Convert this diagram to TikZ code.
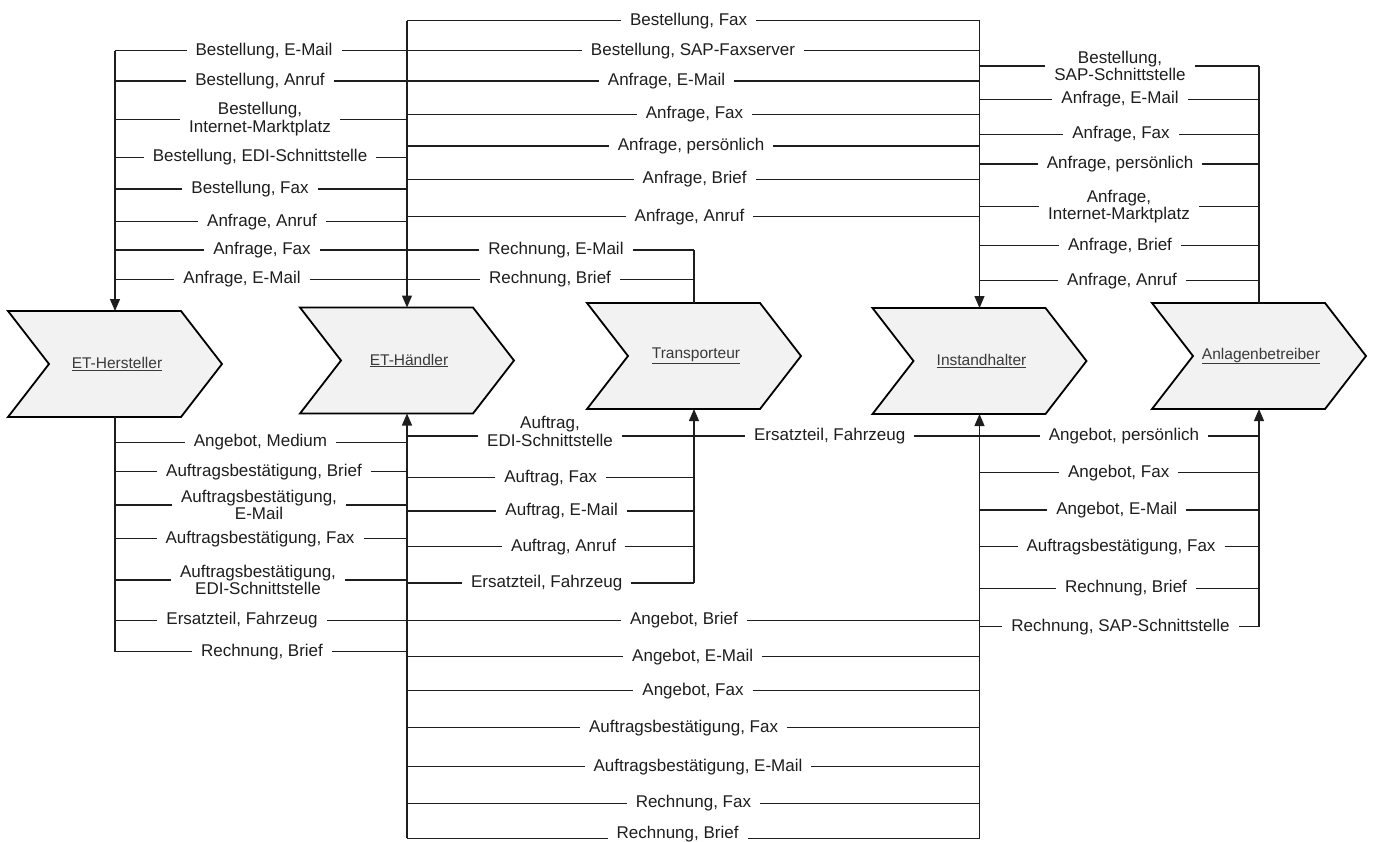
\documentclass[tikz,border=0pt]{standalone}
\usepackage{fontspec}
\setmainfont{Liberation Sans}
\usetikzlibrary{arrows.meta,backgrounds}
\definecolor{chevfill}{HTML}{F2F2F2}
\definecolor{ink}{HTML}{1E1E1E}
\definecolor{chevink}{HTML}{3A3A3A}
\tikzset{
  conn/.style={draw=ink, line width=1.2pt},
  arr/.style={conn, -{Triangle[width=10pt,length=12pt]}},
  lbl/.style={fill=white, text=ink, font=\fontsize{17}{19.5}\selectfont, inner xsep=9pt, inner ysep=1pt, text height=12.5pt, text depth=3.6pt},
  lbltwo/.style={fill=white, text=ink, font=\fontsize{17}{19.5}\selectfont, inner xsep=9pt, inner ysep=0pt, align=center},
  chevbox/.style={minimum width=214pt, minimum height=106pt, inner sep=0pt, outer sep=0pt},
  chevstyle/.style={draw=black, fill=chevfill, line width=1.8pt, line join=miter},
  chevtext/.style={text=chevink, font=\fontsize{15.5}{18}\selectfont, inner sep=0pt}
}
\newcommand\chev[4]{%
  \node[chevbox] (#1) at (#2,#3) {};
  \begin{scope}[on background layer]
  \draw[chevstyle] (#1.north west) -- ([xshift=-41pt]#1.north east) -- (#1.east) -- ([xshift=-41pt]#1.south east) -- (#1.south west) -- ([xshift=41pt]#1.west) -- cycle;
  \end{scope}
  \node[chevtext] (#1t) at ([xshift=2pt]#1.center) {\underline{#4}};
}
\newcommand\flow[6]{%
  \draw[conn] (#2 |- 0,#4) -- (#3 |- 0,#4);
  \node[lbl] (#1) at (#5,#4) {#6};
}
\newcommand\flowtwo[6]{%
  \draw[conn] (#2 |- 0,#4) -- (#3 |- 0,#4);
  \node[lbltwo] (#1) at (#5,#4) {#6};
}
\begin{document}
\begin{tikzpicture}[x=1pt,y=-1pt]
\useasboundingbox (0,0) rectangle (1375,841);

% chevrons
\chev{H}{115}{364}{ET-Hersteller}
\chev{D}{407}{360.5}{ET-Händler}
\chev{T}{694}{356}{Transporteur}
\chev{I}{979.5}{361}{Instandhalter}
\chev{A}{1259}{356}{Anlagenbetreiber}

% ---------- top: Händler -> Hersteller
\flow{a1}{H.north}{D.north}{50.7}{264}{Bestellung, E-Mail}
\flow{a2}{H.north}{D.north}{81}{260}{Bestellung, Anruf}
\flowtwo{a3}{H.north}{D.north}{119.3}{260}{Bestellung,\\[-2pt]Internet-Marktplatz}
\flow{a4}{H.north}{D.north}{157.3}{260}{Bestellung, EDI-Schnittstelle}
\flow{a5}{H.north}{D.north}{189}{250}{Bestellung, Fax}
\flow{a6}{H.north}{D.north}{221.7}{262}{Anfrage, Anruf}
\flow{a7}{H.north}{D.north}{250}{262}{Anfrage, Fax}
\flow{a8}{H.north}{D.north}{279.3}{242}{Anfrage, E-Mail}

% ---------- top: Instandhalter -> Händler
\flow{b1}{D.north}{I.north}{20.7}{688.6}{Bestellung, Fax}
\flow{b2}{D.north}{I.north}{50.7}{693}{Bestellung, SAP-Faxserver}
\flow{b3}{D.north}{I.north}{81}{666.5}{Anfrage, E-Mail}
\flow{b4}{D.north}{I.north}{114.3}{694.5}{Anfrage, Fax}
\flow{b5}{D.north}{I.north}{146}{691}{Anfrage, persönlich}
\flow{b6}{D.north}{I.north}{179.3}{694.7}{Anfrage, Brief}
\flow{b7}{D.north}{I.north}{216.7}{689.5}{Anfrage, Anruf}

% ---------- top: Transporteur -> Händler
\flow{c1}{D.north}{T.north}{250}{556}{Rechnung, E-Mail}
\flow{c2}{D.north}{T.north}{279.3}{550}{Rechnung, Brief}

% ---------- top: Anlagenbetreiber -> Instandhalter
\flowtwo{d1}{I.north}{A.north}{66}{1120}{Bestellung,\\[-2pt]SAP-Schnittstelle}
\flow{d2}{I.north}{A.north}{99.3}{1120}{Anfrage, E-Mail}
\flow{d3}{I.north}{A.north}{134.3}{1121}{Anfrage, Fax}
\flow{d4}{I.north}{A.north}{164}{1120}{Anfrage, persönlich}
\flowtwo{d5}{I.north}{A.north}{206.7}{1119}{Anfrage,\\[-2pt]Internet-Marktplatz}
\flow{d6}{I.north}{A.north}{245.7}{1120}{Anfrage, Brief}
\flow{d7}{I.north}{A.north}{280.7}{1122}{Anfrage, Anruf}

% ---------- bottom: Hersteller -> Händler
\flow{e1}{H.south}{D.south}{442.3}{260.5}{Angebot, Medium}
\flow{e2}{H.south}{D.south}{471.7}{264}{Auftragsbestätigung, Brief}
\flowtwo{e3}{H.south}{D.south}{505}{259}{Auftragsbestätigung,\\[-2pt]E-Mail}
\flow{e4}{H.south}{D.south}{538.7}{260}{Auftragsbestätigung, Fax}
\flowtwo{e5}{H.south}{D.south}{580}{258}{Auftragsbestätigung,\\[-2pt]EDI-Schnittstelle}
\flow{e6}{H.south}{D.south}{620.5}{242}{Ersatzteil, Fahrzeug}
\flow{e7}{H.south}{D.south}{651.7}{262}{Rechnung, Brief}

% ---------- bottom: Händler -> Transporteur
\draw[conn] (D.south |- 0,436) -- (T.south |- 0,436);
\node[lbltwo] (f1) at (550,431.5) {Auftrag,\\[-2pt]EDI-Schnittstelle};
\flow{f2}{D.south}{T.south}{477.7}{550.7}{Auftrag, Fax}
\flow{f3}{D.south}{T.south}{511}{561.7}{Auftrag, E-Mail}
\flow{f4}{D.south}{T.south}{546.7}{563.6}{Auftrag, Anruf}
\flow{f5}{D.south}{T.south}{583}{546.7}{Ersatzteil, Fahrzeug}

% ---------- bottom: Transporteur -> Instandhalter
\flow{g1}{T.south}{I.south}{436}{829.7}{Ersatzteil, Fahrzeug}

% ---------- bottom: Händler -> Instandhalter
\flow{h1}{D.south}{I.south}{620.5}{684}{Angebot, Brief}
\flow{h2}{D.south}{I.south}{656.7}{692.7}{Angebot, E-Mail}
\flow{h3}{D.south}{I.south}{690.7}{693}{Angebot, Fax}
\flow{h4}{D.south}{I.south}{727.7}{683.6}{Auftragsbestätigung, Fax}
\flow{h5}{D.south}{I.south}{766.7}{698}{Auftragsbestätigung, E-Mail}
\flow{h6}{D.south}{I.south}{803.3}{693.4}{Rechnung, Fax}
\draw[conn] (D.south |- 0,838.3) -- (I.south |- 0,838.3);
\node[lbl, inner ysep=0pt] (h7) at (677.6,834.5) {Rechnung, Brief};

% ---------- bottom: Instandhalter -> Anlagenbetreiber
\flow{k1}{I.south}{A.south}{436}{1124}{Angebot, persönlich}
\flow{k2}{I.south}{A.south}{472.7}{1118.7}{Angebot, Fax}
\flow{k3}{I.south}{A.south}{510}{1116.8}{Angebot, E-Mail}
\flow{k4}{I.south}{A.south}{546.7}{1121}{Auftragsbestätigung, Fax}
\flow{k5}{I.south}{A.south}{588.3}{1126}{Rechnung, Brief}
\flow{k6}{I.south}{A.south}{626.7}{1120.5}{Rechnung, SAP-Schnittstelle}

% ---------- vertical buses
\draw[arr] (H.north |- 0,50.7) -- (H.north);
\draw[arr] (D.north |- 0,20.7) -- (D.north);
\draw[conn] (T.north |- 0,250) -- (T.north);
\draw[arr] (I.north |- 0,20.7) -- (I.north);
\draw[conn] (A.north |- 0,66) -- (A.north);

\draw[conn] (H.south) -- (H.south |- 0,651.7);
\draw[arr] (D.south |- 0,838.3) -- (D.south);
\draw[arr] (T.south |- 0,583) -- (T.south);
\draw[arr] (I.south |- 0,838.3) -- (I.south);
\draw[arr] (A.south |- 0,626.7) -- (A.south);
\end{tikzpicture}
\end{document}
